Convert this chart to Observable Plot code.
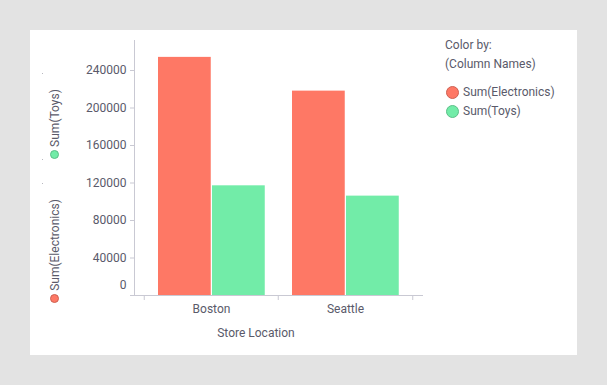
<!DOCTYPE html>
<html>
<head>
<meta charset="utf-8">
<script src="https://cdn.jsdelivr.net/npm/d3@7"></script>
<script src="https://cdn.jsdelivr.net/npm/@observablehq/plot@0.6"></script>
<style>
  html, body { margin: 0; padding: 0; }
  body { font-family: Roboto, "Noto Sans", sans-serif; }
  #wrap { position: relative; width: 607px; height: 385px; background: #e3e3e3; overflow: hidden; }
  #panel { position: absolute; left: 30px; top: 30px; width: 547px; height: 325px; background: #fff; }
  #chart { position: absolute; left: 0; top: 0; }
  .t { position: absolute; font-size: 12px; color: #5a5a6a; white-space: nowrap; line-height: 14px; }
  .dot { position: absolute; border-radius: 50%; box-sizing: border-box; }
  .vlab { position: absolute; font-size: 12px; color: #5a5a6a; white-space: nowrap; line-height: 14px; transform: translate(-50%, -50%) rotate(-90deg); }
  .speck { position: absolute; width: 1px; height: 1px; background: #b8b8c0; }
</style>
</head>
<body>
<div id="wrap">
  <div id="panel"></div>
  <div id="chart"></div>
</div>
<script>
const stores = ["Boston", "Seattle"];
const electronics = [254000, 218000];
const toys = [117000, 106000];
const seriesNames = ["Sum(Electronics)", "Sum(Toys)"];
const seriesColors = ["#fe7865", "#72eca8"];
const yTicks = [40000, 80000, 120000, 160000, 200000, 240000];
const xTitle = "Store Location";
const legendTitle = ["Color by:", "(Column Names)"];

const elecData = stores.map((s, i) => ({store: s, value: electronics[i]}));
const toyData = stores.map((s, i) => ({store: s, value: toys[i]}));

const axisColor = "#c9c9d3";
const textColor = "#5a5a6a";

const chart = Plot.plot({
  width: 607,
  height: 385,
  marginLeft: 134,
  marginRight: 185,
  marginTop: 40,
  marginBottom: 90,
  style: {background: "transparent", fontFamily: "Roboto, 'Noto Sans', sans-serif", fontSize: "12px", color: textColor, overflow: "visible"},
  x: {domain: stores, range: [143, 412], padding: 0, label: null},
  y: {domain: [0, 272000], label: null},
  marks: [
    Plot.barY(elecData, {x: "store", y: "value", fill: seriesColors[0], insetLeft: 14, insetRight: 67.25}),
    Plot.barY(toyData, {x: "store", y: "value", fill: seriesColors[1], insetLeft: 68, insetRight: 13.25}),
    Plot.frame({anchor: "left", stroke: axisColor}),
    Plot.frame({anchor: "bottom", stroke: axisColor}),
    Plot.axisY(yTicks, {tickSize: 4, tickPadding: 4, stroke: axisColor, fill: textColor, tickFormat: d => String(d), label: null}),
    Plot.axisY([0], {tickSize: 4, text: null, stroke: axisColor, label: null}),
    Plot.axisY([0], {tickSize: 0, tickPadding: 8, dy: -10, fill: textColor, tickFormat: d => String(d), label: null}),
    Plot.axisX(stores, {tickSize: 5, text: null, dx: -67.25, stroke: axisColor, label: null}),
    Plot.axisX([stores[stores.length - 1]], {tickSize: 5, text: null, dx: 67.25, stroke: axisColor, label: null}),
    Plot.axisX(stores, {tickSize: 0, tickPadding: 8.5, fill: textColor, label: null})
  ]
});
document.getElementById("chart").appendChild(chart);

const wrap = document.getElementById("wrap");
function addText(txt, x, y, cls) {
  const d = document.createElement("div");
  d.className = cls || "t";
  d.textContent = txt;
  d.style.left = x + "px";
  d.style.top = y + "px";
  wrap.appendChild(d);
  return d;
}
function addDot(x, y, r, color) {
  const d = document.createElement("div");
  d.className = "dot";
  d.style.left = (x - r) + "px";
  d.style.top = (y - r) + "px";
  d.style.width = (2 * r) + "px";
  d.style.height = (2 * r) + "px";
  d.style.background = color;
  d.style.border = "1px solid " + d3.color(color).darker(0.6);
  wrap.appendChild(d);
}

// x axis title
const xt = addText(xTitle, 256, 333);
xt.style.transform = "translate(-50%, -50%)";

// legend
addText(legendTitle[0], 445, 38);
addText(legendTitle[1], 445, 57);
seriesNames.forEach((n, i) => {
  addDot(452, 92 + i * 19, 6.5, seriesColors[i]);
  addText(n, 463, 85 + i * 19);
});

// left rotated series labels
addText(seriesNames[1], 55, 117.5, "vlab");
addDot(54, 154, 4.5, seriesColors[1]);
addText(seriesNames[0], 55, 245, "vlab");
addDot(54, 298, 4.5, seriesColors[0]);

// faint specks
[73, 159, 183].forEach(y => {
  const s = document.createElement("div");
  s.className = "speck";
  s.style.left = "42px";
  s.style.top = y + "px";
  wrap.appendChild(s);
});
</script>
</body>
</html>
